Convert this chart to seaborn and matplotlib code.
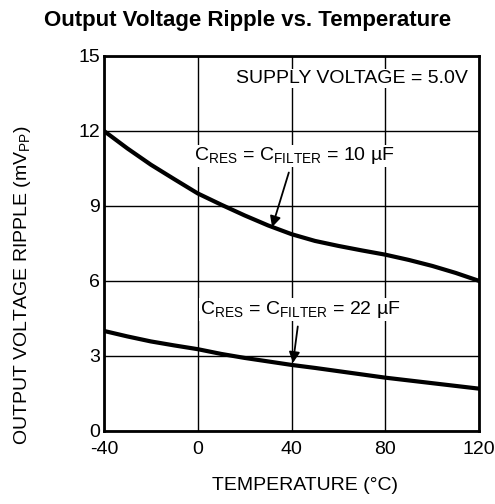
import numpy as np
import pandas as pd
import matplotlib
matplotlib.use("Agg")
import matplotlib.pyplot as plt
import seaborn as sns

# Data (every 10 degC)
temperature = [-40, -30, -20, -10, 0, 10, 20, 30, 40, 50, 60, 70, 80, 90, 100, 110, 120]
ripple_10uf = [12.0, 11.3, 10.65, 10.07, 9.5, 9.05, 8.62, 8.22, 7.87, 7.6, 7.4, 7.22, 7.05,
               6.84, 6.6, 6.32, 6.0]
ripple_22uf = [4.0, 3.78, 3.58, 3.42, 3.27, 3.08, 2.92, 2.78, 2.64, 2.52, 2.39, 2.26, 2.13,
               2.02, 1.91, 1.8, 1.69]

x_ticks = [-40, 0, 40, 80, 120]
y_ticks = [0, 3, 6, 9, 12, 15]

sns.set_style("white")
plt.rcParams['font.family'] = ['Liberation Sans', 'DejaVu Sans']
plt.rcParams['mathtext.fontset'] = 'custom'
plt.rcParams['mathtext.rm'] = 'Liberation Sans'
plt.rcParams['mathtext.it'] = 'Liberation Sans'
plt.rcParams['axes.unicode_minus'] = False
plt.rcParams['text.color'] = 'black'
plt.rcParams['axes.labelcolor'] = 'black'

df = pd.DataFrame({
    'temp': temperature * 2,
    'ripple': ripple_10uf + ripple_22uf,
    'cap': ['10'] * len(temperature) + ['22'] * len(temperature),
})

fig = plt.figure(figsize=(4.95, 5.04), dpi=100)
ax = fig.add_axes([0.210, 0.145, 0.758, 0.744])

sns.lineplot(data=df, x='temp', y='ripple', hue='cap', palette=['black', 'black'],
             linewidth=3.0, legend=False, ax=ax)

ax.set_xlim(-40, 120)
ax.set_ylim(0, 15)
ax.set_xticks(x_ticks)
ax.set_yticks(y_ticks)
ax.grid(True, color='black', linewidth=1.0)
ax.tick_params(axis='both', length=0, labelsize=14, colors='black')
ax.tick_params(axis='x', pad=7.5)
ax.tick_params(axis='y', pad=3)
for s in ax.spines.values():
    s.set_linewidth(2.0)
    s.set_color('black')

ax.set_xlabel('TEMPERATURE (°C)', fontsize=14)
ax.xaxis.set_label_coords(0.536, -0.124)
ax.set_ylabel(r'OUTPUT VOLTAGE RIPPLE (mV$_{\mathrm{PP}}$)', fontsize=14)
ax.yaxis.set_label_coords(-0.19, 0.39)
fig.text(0.5, 0.96, 'Output Voltage Ripple vs. Temperature', fontsize=16, fontweight='bold',
         ha='center', va='center')

ax.text(115, 14.1, 'SUPPLY VOLTAGE = 5.0V', fontsize=14, ha='right', va='center',
        bbox=dict(facecolor='white', edgecolor='none', pad=1))

ax.annotate(r'C$_{\mathrm{RES}}$ = C$_{\mathrm{FILTER}}$ = 10 µF', xy=(31.7, 8.15), xytext=(41, 11.0),
            fontsize=14, ha='center', va='center',
            bbox=dict(facecolor='white', edgecolor='none', pad=0.5),
            arrowprops=dict(arrowstyle='-|>', color='black', lw=1.3, shrinkA=4, shrinkB=0,
                            mutation_scale=16))
ax.annotate(r'C$_{\mathrm{RES}}$ = C$_{\mathrm{FILTER}}$ = 22 µF', xy=(40.6, 2.72), xytext=(43.6, 4.85),
            fontsize=14, ha='center', va='center',
            bbox=dict(facecolor='white', edgecolor='none', pad=0.5),
            arrowprops=dict(arrowstyle='-|>', color='black', lw=1.3, shrinkA=4, shrinkB=0,
                            mutation_scale=16))

fig.savefig('out.png', dpi=100)
